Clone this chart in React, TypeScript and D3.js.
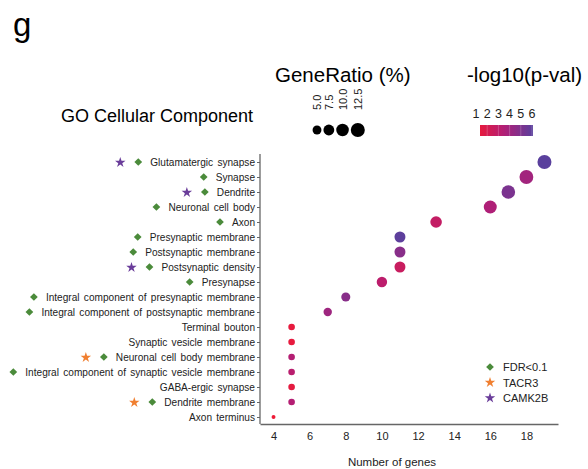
import React, { useEffect, useRef } from 'react'
import * as d3 from 'd3'

// GO cellular component terms, top to bottom
const terms = [
  'Glutamatergic synapse', 'Synapse', 'Dendrite', 'Neuronal cell body', 'Axon',
  'Presynaptic membrane', 'Postsynaptic membrane', 'Postsynaptic density', 'Presynapse',
  'Integral component of presynaptic membrane', 'Integral component of postsynaptic membrane',
  'Terminal bouton', 'Synaptic vesicle membrane', 'Neuronal cell body membrane',
  'Integral component of synaptic vesicle membrane', 'GABA-ergic synapse',
  'Dendrite membrane', 'Axon terminus',
]
const geneCounts = [19, 18, 17, 16, 13, 11, 11, 11, 10, 8, 7, 5, 5, 5, 5, 5, 5, 4]
const geneRatio = [12.5, 12.2, 11.8, 10.8, 8.6, 7.7, 7.7, 7.7, 6.9, 5.2, 4.5, 2.8, 2.8, 2.8, 2.8, 2.8, 2.8, 1.0]
const negLogP = [6.2, 4.0, 5.2, 3.6, 2.8, 6.1, 4.8, 2.6, 3.1, 4.8, 4.1, 1.3, 1.3, 3.4, 3.2, 1.4, 3.4, 1.0]
const fdrSig = [1, 1, 1, 1, 1, 1, 1, 1, 1, 1, 1, 0, 0, 1, 1, 0, 1, 0]
const tacr3 = [0, 0, 0, 0, 0, 0, 0, 0, 0, 0, 0, 0, 0, 1, 0, 0, 1, 0]
const camk2b = [1, 0, 1, 0, 0, 0, 0, 1, 0, 0, 0, 0, 0, 0, 0, 0, 0, 0]

const xTicks = [4, 6, 8, 10, 12, 14, 16, 18]
const sizeLegend = [5.0, 7.5, 10.0, 12.5]
const colorTicks = [1, 2, 3, 4, 5, 6]
const markerLegend = ['FDR<0.1', 'TACR3', 'CAMK2B']

const FONT = 'Liberation Sans, Arial, Helvetica, sans-serif'
const GREEN = '#4b8b3b'
const ORANGE = '#f07f30'
const PURPLE = '#6a3d9a'

export default function App() {
  const ref = useRef<SVGSVGElement>(null)

  useEffect(() => {
    const svg = d3.select(ref.current)
    svg.selectAll('*').remove()

    const x = d3.scaleLinear().domain([3.25, 19.75]).range([260, 558])
    const y = d3.scalePoint<string>().domain(terms).range([162, 417])
    const r = d3.scaleSqrt().domain([0, 12.5]).range([0, 7])
    const color = d3.scaleLinear<string>()
      .domain([1, 3.5, 6.2])
      .range(['#ee1a36', '#b21e76', '#5a409d'])

    const diamond = d3.symbol().type(d3.symbolSquare).size(30)
    const star = d3.symbol().type(d3.symbolStar).size(34)

    // panel letter and titles
    svg.append('text').attr('x', 13).attr('y', 36)
      .attr('font-family', FONT).attr('font-size', 33).text('g')
    svg.append('text').attr('x', 61).attr('y', 122)
      .attr('font-family', FONT).attr('font-size', 18).text('GO Cellular Component')
    svg.append('text').attr('x', 275).attr('y', 82)
      .attr('font-family', FONT).attr('font-size', 20.5).text('GeneRatio (%)')
    svg.append('text').attr('x', 467).attr('y', 82)
      .attr('font-family', FONT).attr('font-size', 20.5).text('-log10(p-val)')

    // y axis
    const yAxis = svg.append('g')
      .attr('transform', 'translate(260,0)')
      .call(d3.axisLeft(y).tickSize(3).tickPadding(2))
    yAxis.select('.domain').remove()
    yAxis.selectAll('line').attr('stroke', '#666')
    yAxis.selectAll('text')
      .attr('font-family', FONT).attr('font-size', 10.1).attr('fill', '#222')
      .attr('word-spacing', 1.5)
    svg.append('line')
      .attr('x1', 260).attr('x2', 260).attr('y1', 154).attr('y2', 424)
      .attr('stroke', '#666').attr('stroke-width', 1.3)

    // x axis
    const xAxis = svg.append('g')
      .attr('transform', 'translate(0,424)')
      .call(d3.axisBottom(x).tickValues(xTicks).tickSize(0).tickPadding(8).tickFormat(d3.format('d')))
    xAxis.select('.domain').attr('stroke', '#666').attr('stroke-width', 1.3)
    xAxis.selectAll('text').attr('font-family', FONT).attr('font-size', 11).attr('fill', '#222')
    svg.append('text').attr('x', 392).attr('y', 466).attr('text-anchor', 'middle')
      .attr('font-family', FONT).attr('font-size', 11.5).attr('fill', '#222').text('Number of genes')

    // markers left of each label
    const labelNodes = yAxis.selectAll<SVGTextElement, string>('.tick text').nodes()
    terms.forEach((t, i) => {
      const w = labelNodes[i].getComputedTextLength()
      const start = 255 - w
      const dx = start - 12
      if (fdrSig[i]) {
        svg.append('path').attr('d', diamond())
          .attr('transform', `translate(${dx},${y(t)}) rotate(45)`).attr('fill', GREEN)
      }
      const sx = dx - 18
      if (camk2b[i]) {
        svg.append('path').attr('d', star())
          .attr('transform', `translate(${sx},${y(t)! + 0.5})`).attr('fill', PURPLE)
      }
      if (tacr3[i]) {
        svg.append('path').attr('d', star())
          .attr('transform', `translate(${sx},${y(t)! + 0.5})`).attr('fill', ORANGE)
      }
    })

    // dots
    svg.append('g').selectAll('circle')
      .data(terms)
      .enter()
      .append('circle')
      .attr('cx', (d, i) => x(geneCounts[i]))
      .attr('cy', d => y(d)!)
      .attr('r', (d, i) => r(geneRatio[i]))
      .attr('fill', (d, i) => color(negLogP[i]))

    // size legend
    let cx = 317
    sizeLegend.forEach((v, i) => {
      if (i > 0) cx += r(sizeLegend[i - 1]) + r(v) + 2
      svg.append('circle').attr('cx', cx).attr('cy', 130).attr('r', r(v)).attr('fill', '#000')
      svg.append('text')
        .attr('transform', `translate(${cx + 4},110) rotate(-90)`)
        .attr('font-family', FONT).attr('font-size', 11).attr('fill', '#222')
        .text(d3.format('.1f')(v))
    })

    // color legend
    const cl = d3.scaleLinear().domain([1, 6]).range([476, 532])
    const grad = svg.append('defs').append('linearGradient').attr('id', 'pgrad')
    d3.range(0, 1.001, 0.1).forEach(t => {
      grad.append('stop').attr('offset', t).attr('stop-color', color(1.3 + t * 4.9))
    })
    svg.append('rect').attr('x', 480).attr('y', 125).attr('width', 53).attr('height', 11)
      .attr('fill', 'url(#pgrad)')
    colorTicks.forEach(v => {
      svg.append('line').attr('x1', cl(v)).attr('x2', cl(v)).attr('y1', 125).attr('y2', 136)
        .attr('stroke', '#fff').attr('stroke-opacity', 0.35).attr('stroke-width', 0.6)
      svg.append('text').attr('x', cl(v)).attr('y', 118).attr('text-anchor', 'middle')
        .attr('font-family', FONT).attr('font-size', 12.5).attr('fill', '#222').text(v)
    })

    // marker legend
    const mColors = [GREEN, ORANGE, PURPLE]
    markerLegend.forEach((lab, i) => {
      const my = 367 + i * 15.5
      svg.append('path').attr('d', i === 0 ? diamond() : star())
        .attr('transform', `translate(490,${my})${i === 0 ? ' rotate(45)' : ''}`)
        .attr('fill', mColors[i])
      svg.append('text').attr('x', 503).attr('y', my + 4)
        .attr('font-family', FONT).attr('font-size', 11).attr('fill', '#222').text(lab)
    })
  }, [])

  return (
    <svg ref={ref} width={588} height={469}
      style={{ position: 'absolute', left: 0, top: 0, background: '#fff' }} />
  )
}
